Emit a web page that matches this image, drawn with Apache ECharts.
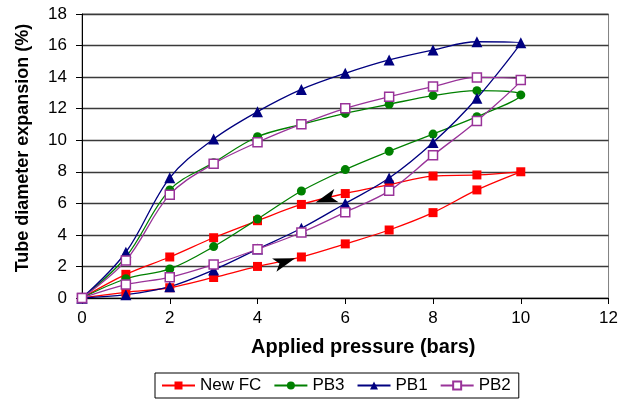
<!DOCTYPE html>
<html>
<head>
<meta charset="utf-8">
<title>Tube diameter expansion</title>
<script src="https://cdn.jsdelivr.net/npm/echarts@6/dist/echarts.min.js"></script>
<style>
  html, body { margin: 0; padding: 0; background: #ffffff; }
  #chart { width: 621px; height: 402px; }
</style>
</head>
<body>
<div id="chart"></div>
<script>
// Applied pressure steps: loading up to 10 bars, then unloading back to 0
const loadingPressure = [0, 1, 2, 3, 4, 5, 6, 7, 8, 9, 10];
const unloadingPressure = [9, 8, 7, 6, 5, 4, 3, 2, 1, 0];

// Tube diameter expansion (%) per tube, loading branch
const newFcLoading = [0, 0.36, 0.65, 1.3, 2.0, 2.6, 3.43, 4.31, 5.41, 6.85, 8.0];
const pb3Loading   = [0, 1.22, 1.84, 3.26, 5.0, 6.78, 8.14, 9.3, 10.39, 11.49, 12.87];
const pb1Loading   = [0, 0.21, 0.72, 1.78, 3.1, 4.42, 5.99, 7.6, 9.85, 12.66, 16.18];
const pb2Loading   = [0, 0.85, 1.31, 2.12, 3.09, 4.15, 5.44, 6.79, 9.04, 11.22, 13.82];

// Unloading branch (pressure 9 -> 0)
const newFcUnloading = [7.8, 7.73, 7.18, 6.62, 5.93, 4.9, 3.82, 2.6, 1.5, 0];
const pb3Unloading   = [13.14, 12.83, 12.28, 11.7, 11.0, 10.22, 8.58, 6.85, 2.6, 0];
const pb1Unloading   = [16.24, 15.72, 15.09, 14.24, 13.22, 11.81, 10.08, 7.62, 2.9, 0];
const pb2Unloading   = [13.98, 13.4, 12.76, 12.02, 11.02, 9.87, 8.51, 6.55, 2.37, 0];

// Direction arrows on the New FC loop: [pressure, expansion]
const loadingArrow = [4.62, 2.3];
const unloadingArrow = [5.56, 6.27];

const seriesNames = ['New FC', 'PB3', 'PB1', 'PB2'];
const xTicks = [0, 2, 4, 6, 8, 10, 12];
const yTicks = [0, 2, 4, 6, 8, 10, 12, 14, 16, 18];

function loop(loading, unloading) {
  return loadingPressure.map((p, i) => [p, loading[i]])
    .concat(unloadingPressure.map((p, i) => [p, unloading[i]]));
}

const FONT = '"Liberation Sans", Arial, Helvetica, sans-serif';
const arrowPath = 'path://M0,0 L20,6 L0,12 L5,6 Z';

const styles = {
  'New FC': { color: '#ff0000', symbol: 'rect', size: 9, fill: '#ff0000' },
  'PB3':    { color: '#008000', symbol: 'circle', size: 9, fill: '#008000' },
  'PB1':    { color: '#000080', symbol: 'triangle', size: 11, fill: '#000080' },
  'PB2':    { color: '#993399', symbol: 'rect', size: 9, fill: '#ffffff' }
};

const loops = {
  'New FC': loop(newFcLoading, newFcUnloading),
  'PB3': loop(pb3Loading, pb3Unloading),
  'PB1': loop(pb1Loading, pb1Unloading),
  'PB2': loop(pb2Loading, pb2Unloading)
};

const series = seriesNames.map(name => {
  const s = styles[name];
  const item = {
    name: name,
    type: 'line',
    data: loops[name],
    smooth: 0.35,
    symbol: s.symbol,
    symbolSize: s.size,
    showAllSymbol: true,
    lineStyle: { color: s.color, width: 1.3 },
    itemStyle: { color: s.fill, borderColor: s.color, borderWidth: name === 'PB2' ? 1.5 : 0 },
    emphasis: { disabled: true }
  };
  if (name === 'New FC') {
    item.markPoint = {
      silent: true,
      symbol: arrowPath,
      symbolSize: [22, 14],
      itemStyle: { color: '#000000', borderWidth: 0 },
      label: { show: false },
      data: [
        { coord: loadingArrow, symbolRotate: 18 },
        { coord: unloadingArrow, symbolRotate: 198 }
      ]
    };
  }
  return item;
});

const chart = echarts.init(document.getElementById('chart'), null, { renderer: 'canvas' });
chart.setOption({
  animation: false,
  backgroundColor: '#ffffff',
  textStyle: { fontFamily: FONT },
  grid: {
    left: 82, right: 12, top: 14, bottom: 104,
    show: true, borderColor: '#808080', borderWidth: 1, backgroundColor: 'transparent'
  },
  legend: {
    data: seriesNames,
    left: 155, top: 373,
    orient: 'horizontal',
    itemWidth: 33, itemHeight: 10, itemGap: 12,
    padding: [4, 8, 4, 6],
    borderColor: '#000000', borderWidth: 1,
    textStyle: { fontFamily: FONT, fontSize: 17, color: '#000000' }
  },
  xAxis: {
    type: 'value',
    min: xTicks[0], max: xTicks[xTicks.length - 1], interval: 2,
    name: 'Applied pressure (bars)',
    nameLocation: 'middle',
    nameGap: 39,
    nameTextStyle: { fontFamily: FONT, fontSize: 20, fontWeight: 'bold', color: '#000000', padding: [0, 0, 0, 36] },
    axisLine: { show: true, onZero: false, lineStyle: { color: '#000000', width: 1 } },
    axisTick: { show: true, inside: false, length: 6, lineStyle: { color: '#000000' } },
    axisLabel: { fontFamily: FONT, fontSize: 17, color: '#000000', margin: 12 },
    splitLine: { show: false }
  },
  yAxis: {
    type: 'value',
    min: yTicks[0], max: yTicks[yTicks.length - 1], interval: 2,
    name: 'Tube diameter expansion (%)',
    nameLocation: 'middle',
    nameGap: 50,
    nameRotate: 90,
    nameTextStyle: { fontFamily: FONT, fontSize: 18, fontWeight: 'bold', color: '#000000', padding: [0, 0, 0, 16] },
    axisLine: { show: true, lineStyle: { color: '#000000', width: 1 } },
    axisTick: { show: true, inside: false, length: 6, lineStyle: { color: '#000000' } },
    axisLabel: { fontFamily: FONT, fontSize: 17, color: '#000000', margin: 15 },
    splitLine: { show: true, lineStyle: { color: '#3a3a3a', width: 1.3 } }
  },
  series: series
});
</script>
</body>
</html>
